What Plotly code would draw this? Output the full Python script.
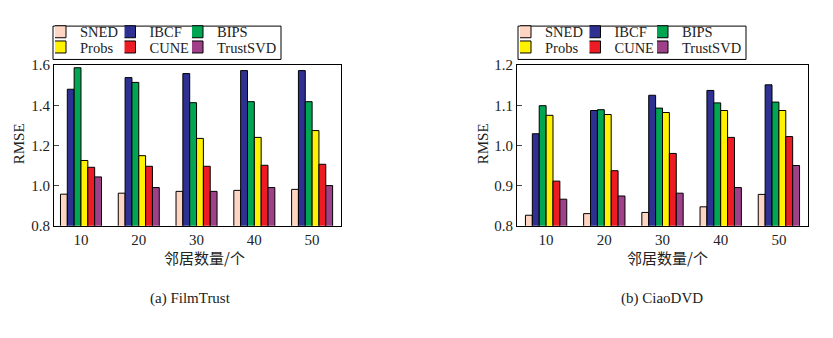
import plotly.graph_objects as go

W, H = 833, 338

categories = ["10", "20", "30", "40", "50"]
methods = ["SNED", "IBCF", "BIPS", "Probs", "CUNE", "TrustSVD"]
colors = ["#fdd5c2", "#2e3192", "#00a651", "#fff200", "#ed1c24", "#9e4189"]

# FilmTrust RMSE
ft_SNED = [0.957, 0.962, 0.971, 0.976, 0.981]
ft_IBCF = [1.480, 1.538, 1.558, 1.573, 1.573]
ft_BIPS = [1.587, 1.514, 1.413, 1.418, 1.418]
ft_Probs = [1.125, 1.149, 1.235, 1.240, 1.274]
ft_CUNE = [1.091, 1.096, 1.096, 1.101, 1.106]
ft_TrustSVD = [1.043, 0.990, 0.971, 0.990, 1.000]

# CiaoDVD RMSE
cd_SNED = [0.826, 0.830, 0.833, 0.847, 0.878]
cd_IBCF = [1.029, 1.087, 1.125, 1.137, 1.151]
cd_BIPS = [1.099, 1.089, 1.093, 1.106, 1.108]
cd_Probs = [1.075, 1.077, 1.082, 1.087, 1.087]
cd_CUNE = [0.911, 0.937, 0.980, 1.020, 1.022]
cd_TrustSVD = [0.866, 0.874, 0.881, 0.895, 0.950]

ft = [ft_SNED, ft_IBCF, ft_BIPS, ft_Probs, ft_CUNE, ft_TrustSVD]
cd = [cd_SNED, cd_IBCF, cd_BIPS, cd_Probs, cd_CUNE, cd_TrustSVD]

SERIF = "Liberation Serif"
CJK = "Noto Sans CJK SC"
TXT = "#222222"


def px_x(v):
    return v / W


def px_y(v):
    return 1 - v / H


# legend entry placement (3 columns x 2 rows inside a framed box)
col_x = [55, 124.5, 192]
row_y = [25, 41]
panel_dx = [0, 465]

fig = go.Figure()
legend_layout = {}
n = 0
for p, data in enumerate([ft, cd]):
    for i, m in enumerate(methods):
        n += 1
        key = "legend" if n == 1 else f"legend{n}"
        fig.add_trace(go.Bar(
            x=categories, y=data[i], name=m,
            marker=dict(color=colors[i], line=dict(color="black", width=1)),
            xaxis="x" if p == 0 else "x2", yaxis="y" if p == 0 else "y2",
            legend=key,
        ))
        legend_layout[key] = dict(
            x=px_x(col_x[i % 3] + panel_dx[p]), y=px_y(row_y[i // 3]),
            xanchor="left", yanchor="middle", orientation="h",
            bgcolor="rgba(0,0,0,0)", borderwidth=0,
            font=dict(family=SERIF, size=14.5, color=TXT),
            indentation=-15, itemwidth=30,
        )

ydom = [px_y(228.5), px_y(60)]

axis_common = dict(showline=True, linecolor="black", linewidth=1, mirror=True,
                   showgrid=False, zeroline=False,
                   tickfont=dict(family=SERIF, size=15, color=TXT))

fig.update_layout(
    width=W, height=H,
    margin=dict(l=0, r=0, t=0, b=0),
    paper_bgcolor="white", plot_bgcolor="white",
    barmode="group", bargap=0.29, bargroupgap=0,
    showlegend=True,
    xaxis=dict(domain=[px_x(54), px_x(341)], type="category",
               range=[-0.467, 4.5], ticks="", anchor="y", **axis_common),
    yaxis=dict(domain=ydom, range=[0.8, 1.6], dtick=0.2, tickformat=".1f",
               ticks="inside", ticklen=5, anchor="x", **axis_common),
    xaxis2=dict(domain=[px_x(517), px_x(808)], type="category",
                range=[-0.5, 4.5], ticks="", anchor="y2", **axis_common),
    yaxis2=dict(domain=ydom, range=[0.8, 1.2], dtick=0.1, tickformat=".1f",
                ticks="inside", ticklen=5, anchor="x2", **axis_common),
    shapes=[
        dict(type="rect", xref="paper", yref="paper",
             x0=px_x(53 + dx), x1=px_x(281 + dx), y0=px_y(54), y1=px_y(19),
             line=dict(color="black", width=1), fillcolor="white", layer="below")
        for dx in panel_dx
    ],
    **legend_layout,
)

annos = [
    dict(text="RMSE", x=px_x(19), y=px_y(143), textangle=-90,
         font=dict(family=SERIF, size=15, color=TXT)),
    dict(text="RMSE", x=px_x(483), y=px_y(143), textangle=-90,
         font=dict(family=SERIF, size=15, color=TXT)),
    dict(text="邻居数量/个", x=px_x(204), y=px_y(262),
         font=dict(family=CJK, size=15, color=TXT)),
    dict(text="邻居数量/个", x=px_x(667), y=px_y(262),
         font=dict(family=CJK, size=15, color=TXT)),
    dict(text="(a) FilmTrust", x=px_x(190), y=px_y(305),
         font=dict(family=SERIF, size=15, color=TXT)),
    dict(text="(b) CiaoDVD", x=px_x(662), y=px_y(305),
         font=dict(family=SERIF, size=15, color=TXT)),
]
for a in annos:
    a.update(xref="paper", yref="paper", showarrow=False,
             xanchor="center", yanchor="middle")
fig.update_layout(annotations=annos)

fig.write_html("out.html")
